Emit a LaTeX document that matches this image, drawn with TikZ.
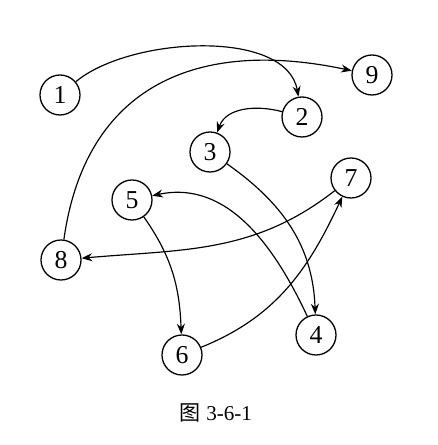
\documentclass[tikz,border=0pt]{standalone}
\usepackage{fontspec}
\setmainfont{Liberation Serif}
\newfontfamily\cjk{Noto Sans CJK SC}
\usetikzlibrary{arrows.meta}

\begin{document}
\begin{tikzpicture}[x=0.03cm,y=0.03cm,
        vertex/.style={draw,circle,line width=1.1pt,minimum size=1.2cm,inner sep=0pt,font=\fontsize{22}{24}\selectfont},
        edge/.style={line width=1pt,-{Stealth[length=3.2mm,width=2.4mm]}}]
        \useasboundingbox (0,0) rectangle (437,445);
        \node[vertex] (n1) at (60,350) {1};
        \node[vertex] (n9) at (372,370) {9};
        \node[vertex] (n2) at (302,328) {2};
        \node[vertex] (n3) at (210,293) {3};
        \node[vertex] (n7) at (351,267) {7};
        \node[vertex] (n5) at (132,245) {5};
        \node[vertex] (n8) at (61,185) {8};
        \node[vertex] (n4) at (316,110) {4};
        \node[vertex] (n6) at (182,90) {6};
        \node (cap) at (216,32) {\fontsize{18}{20}\selectfont{\cjk 图} 3-6-1};
        \draw[edge] (n1) to[out=40,in=100,looseness=0.8] (n2);
        \draw[edge] (n8) to[out=82,in=168,looseness=1.2] (n9);
        \draw[edge] (n2) to[out=165,in=70] (n3);
        \draw[edge] (n3) to[out=-35,in=92] (n4);
        \draw[edge] (n4) to[out=115,in=12] (n5);
        \draw[edge] (n5) to[out=-55,in=92] (n6);
        \draw[edge] (n6) to[out=22,in=-115] (n7);
        \draw[edge] (n7) to[out=218,in=5] (n8);
    \end{tikzpicture}
\end{document}
